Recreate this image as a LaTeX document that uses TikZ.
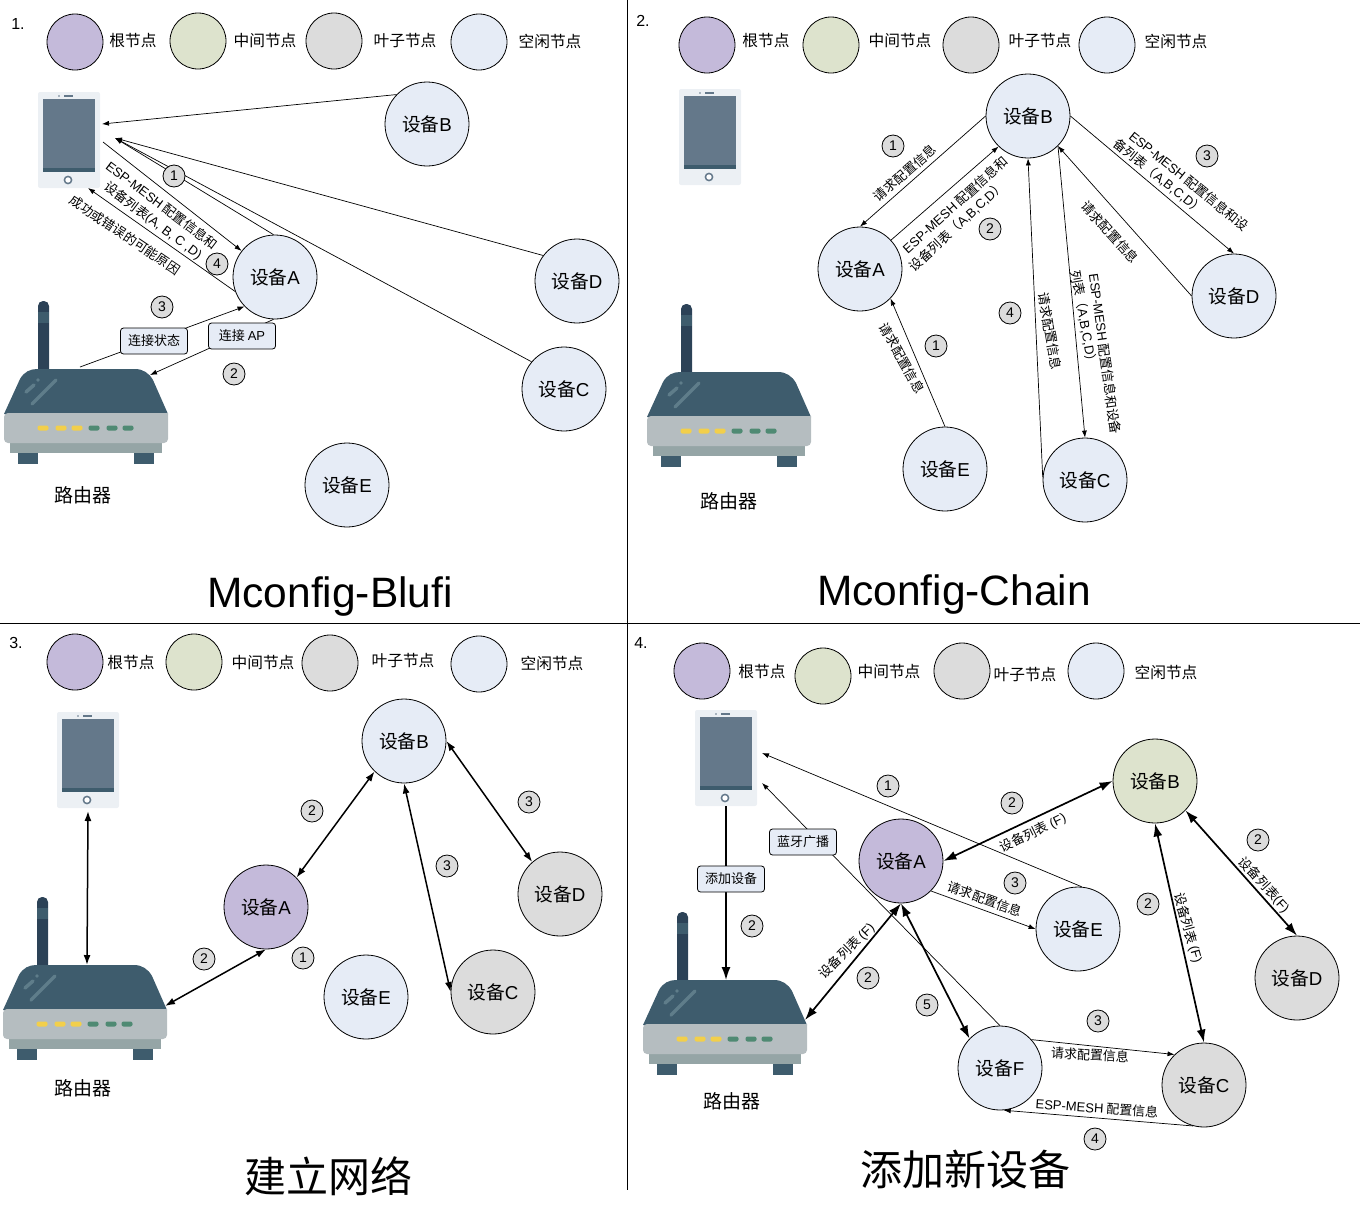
\documentclass[tikz,border=0pt]{standalone}
\usepackage{fontspec}
\setmainfont{Noto Sans CJK SC}
\newfontfamily\lat{Liberation Sans}
\usetikzlibrary{arrows.meta}
\definecolor{rootc}{HTML}{C4BADA}
\definecolor{midc}{HTML}{DDE3CD}
\definecolor{leafc}{HTML}{DCDCDC}
\definecolor{idlec}{HTML}{E6ECF6}
\definecolor{slate}{HTML}{3E5C6D}
\definecolor{mast}{HTML}{2C4257}
\definecolor{screen}{HTML}{64788A}
\definecolor{shell}{HTML}{ECF0F4}
\definecolor{band}{HTML}{B5BDC0}
\definecolor{lowband}{HTML}{95A5A6}
\definecolor{ledy}{HTML}{F2CF4B}
\definecolor{ledg}{HTML}{4F8A73}
\definecolor{glint}{HTML}{5F7D8A}
\newcommand{\dev}[1]{设备{\lat #1}}
\newcommand{\esp}{{\lat ESP-MESH} }
\tikzset{device/.style={circle,draw,line width=.8pt,minimum size=84pt,inner sep=0pt,fill=idlec,font=\fontsize{18.7}{21}\selectfont}}
\tikzset{legend/.style={circle,draw,line width=.8pt,minimum size=56pt,inner sep=0pt}}
\tikzset{legendtext/.style={inner sep=0pt,font=\fontsize{15.7}{18}\selectfont}}
\tikzset{routertext/.style={inner sep=0pt,font=\fontsize{19}{21}\selectfont}}
\tikzset{badge/.style={circle,draw,line width=.8pt,minimum size=22pt,inner sep=0pt,fill=leafc,font=\fontsize{14}{16}\lat}}
\tikzset{msg/.style={inner sep=0pt,font=\fontsize{13}{15}\selectfont}}
\tikzset{msgbox/.style={draw,line width=.8pt,rounded corners=3pt,fill=idlec,minimum height=26pt,minimum width=67pt,inner sep=0pt,font=\fontsize{13}{15}\selectfont}}
\tikzset{title/.style={inner sep=0pt,font=\fontsize{42}{46}\selectfont}}
\tikzset{panelno/.style={inner sep=0pt,font=\fontsize{16}{18}\lat}}
\tikzset{arc/.style={-{Latex[length=7pt,width=5pt]},line width=.7pt}}
\tikzset{fatarc/.style={{Latex[length=10pt,width=7pt]}-{Latex[length=10pt,width=7pt]},line width=1.5pt}}
\tikzset{heavyarc/.style={{Latex[length=13pt,width=9pt]}-{Latex[length=13pt,width=9pt]},line width=1.7pt}}
\tikzset{phone/.pic={
  \node[fill=shell,rounded corners=2pt,minimum width=62pt,minimum height=96pt,inner sep=0pt] (-body) at (31,48){};
  \fill[screen] (5,7) rectangle (57,80);
  \fill[slate] (5,76) rectangle (57,80);
  \draw[screen,line width=1.5pt,fill=white] (30,88) circle (3.6);
  \fill[screen] (21,4) circle (.8);
  \fill[screen] (26,3.4) rectangle (35,4.6);
}}
\tikzset{router/.pic={
  \fill[mast,rounded corners=5pt] (34,-68) rectangle (45,8);
  \fill[slate] (34,-57) rectangle (45,-46);
  \fill[slate] (0,45) -- (16,10) .. controls (20,3) and (26,0) .. (33,0) -- (131,0) .. controls (139,0) and (145,4) .. (149,11) -- (164,45) -- cycle;
  \fill[lowband] (6,70) rectangle (158,84);
  \fill[band] (0,44) -- (164,44) -- (164,69) [rounded corners=4pt] -- (164,74) -- (0,74) -- cycle;
  \fill[slate] (14,84) rectangle (34,95);
  \fill[slate] (130,84) rectangle (150,95);
  \foreach \x in {39,57,73} \fill[ledy,rounded corners=2pt] (\x-5.5,56.5) rectangle (\x+5.5,61.5);
  \foreach \x in {90,108,124} \fill[ledg,rounded corners=2pt] (\x-5.5,56.5) rectangle (\x+5.5,61.5);
  \draw[glint,line width=3.5pt,line cap=round] (22,23) -- (30,16);
  \fill[glint] (34,11) circle (1.8);
  \draw[glint,line width=3.5pt,line cap=round] (28,35) -- (52,11);
}}

\begin{document}
\begin{tikzpicture}[x=1pt,y=-1pt]
  \useasboundingbox (0,0) rectangle (1360,1208);
  \coordinate (vtop) at (627,0);
  \coordinate (vend) at (627,1190);
  \coordinate (hleft) at (0,623);
  \coordinate (hright) at (1360,623);
  \draw[line width=.8pt] (vtop) -- (vend);
  \draw[line width=.8pt] (hleft) -- (hright);

  \node[panelno] (no1) at (18,24){1.};
  \node[panelno] (no2) at (643,21){2.};
  \node[panelno] (no3) at (16,643){3.};
  \node[panelno] (no4) at (641,643){4.};

  % legends of the four panels
  \foreach \i/\kind/\word/\cx/\cy/\tx/\ty in {
    1/rootc/根节点/75/42/133/41, 2/midc/中间节点/198/41/265/41, 3/leafc/叶子节点/334/41/405/41, 4/idlec/空闲节点/479/42/550/41,
    5/rootc/根节点/707/45/766/41, 6/midc/中间节点/831/45/900/41, 7/leafc/叶子节点/971/45/1040/41, 8/idlec/空闲节点/1107/45/1176/41,
    9/rootc/根节点/75/662/131/663, 10/midc/中间节点/194/662/263/663, 11/leafc/叶子节点/330/663/403/661, 12/idlec/空闲节点/479/664/552/663,
    13/rootc/根节点/702/671/762/672, 14/midc/中间节点/823/676/889/672, 15/leafc/叶子节点/962/671/1025/675, 16/idlec/空闲节点/1096/671/1166/672}{
    \node[legend,fill=\kind] (l\i) at (\cx,\cy){};
    \node[legendtext] (lt\i) at (\tx,\ty){\word};
  }

  \pic (ph1) at (38,92) {phone};
  \pic (ph2) at (679,89) {phone};
  \pic (ph3) at (57,712) {phone};
  \pic (ph4) at (695,710) {phone};
  \pic (rt1) at (4,369) {router};
  \pic (rt2) at (647,372) {router};
  \pic (rt3) at (3,965) {router};
  \pic (rt4) at (643,980) {router};
  \node[routertext] (rl1) at (83,495){路由器};
  \node[routertext] (rl2) at (729,501){路由器};
  \node[routertext] (rl3) at (83,1088){路由器};
  \node[routertext] (rl4) at (732,1101){路由器};

  % panel 1
  \node[device] (b1) at (427,124){\dev{B}};
  \node[device] (a1) at (275,277){\dev{A}};
  \node[device] (d1) at (577,281){\dev{D}};
  \node[device] (c1) at (564,389){\dev{C}};
  \node[device] (e1) at (347,485){\dev{E}};
  \coordinate (p1a) at (102,124);
  \coordinate (p1b) at (115,138);
  \coordinate (p1c) at (103,142);
  \coordinate (p1d) at (88,188);
  \coordinate (r1a) at (80,367);
  \coordinate (r1b) at (150,375);
  \draw[arc] (b1.136) -- (p1a);
  \draw[arc] (a1.92) -- (p1b);
  \draw[arc] (d1.143) -- (p1b);
  \draw[arc] (c1.140) -- (p1b);
  \draw[arc] (p1c) -- (a1.142);
  \draw[arc] (a1.200) -- (p1d);
  \draw[arc] (r1a) -- (a1.224);
  \draw[arc] (a1.268) -- (r1b);
  \node[msgbox] (s1) at (154,341){连接状态};
  \node[msgbox] (s2) at (242,336){连接 {\lat AP}};
  \node[msg,rotate=-37] (m1) at (162,205){\esp 配置信息和};
  \node[msg,rotate=-37] (m2) at (153,221){设备列表{\lat (A, B, C ,D)}};
  \node[msg,rotate=-34] (m3) at (125,235){成功或错误的可能原因};

  % panel 2
  \node[device] (b2) at (1028,116){\dev{B}};
  \node[device] (a2) at (860,269){\dev{A}};
  \node[device] (d2) at (1234,296){\dev{D}};
  \node[device] (e2) at (945,469){\dev{E}};
  \node[device] (c2) at (1085,480){\dev{C}};
  \draw[arc] (b2.180) -- (a2.90);
  \draw[arc] (a2.43) -- (b2.226);
  \draw[arc] (b2.0) -- (d2.90);
  \draw[arc] (d2.180) -- (b2.315);
  \draw[arc] (c2.176) -- (b2.270);
  \draw[arc] (b2.315) -- (c2.90);
  \draw[arc] (e2.90) -- (a2.316);
  \node[msg,rotate=41] (m4) at (905,173){请求配置信息};
  \node[msg,rotate=42] (m5) at (955,205){\esp 配置信息和};
  \node[msg,rotate=43] (m6) at (957,226){设备列表（{\lat A,B,C,D}）};
  \node[msg,rotate=-61] (m7) at (902,358){请求配置信息};
  \node[msg,rotate=-80] (m8) at (1050,331){请求配置信息};
  \node[msg,rotate=-82] (m9) at (1105,354){\esp 配置信息和设备};
  \node[msg,rotate=-80] (m10) at (1084,319){列表（{\lat A,B,C,D}）};
  \node[msg,rotate=-48] (m11) at (1110,232){请求配置信息};
  \node[msg,rotate=-39] (m12) at (1189,181){\esp 配置信息和设};
  \node[msg,rotate=-39] (m13) at (1159,177){备列表（{\lat A,B,C,D}）};

  % panel 3
  \node[device] (b3) at (404,741){\dev{B}};
  \node[device,fill=rootc] (a3) at (266,907){\dev{A}};
  \node[device,fill=leafc] (d3) at (560,894){\dev{D}};
  \node[device,fill=leafc] (c3) at (493,992){\dev{C}};
  \node[device] (e3) at (366,997){\dev{E}};
  \coordinate (p3a) at (88,811);
  \coordinate (r3a) at (87,965);
  \coordinate (r3b) at (165,1006);
  \draw[fatarc] (p3a) -- (r3a);
  \draw[fatarc] (r3b) -- (a3.270);
  \draw[fatarc] (a3.44) -- (b3.226);
  \draw[fatarc] (b3.270) -- (c3.180);
  \draw[fatarc] (b3.0) -- (d3.131);

  % panel 4
  \node[device,fill=midc] (b4) at (1155,781){\dev{B}};
  \node[device,fill=rootc] (a4) at (901,861){\dev{A}};
  \node[device] (e4) at (1078,929){\dev{E}};
  \node[device,fill=leafc] (d4) at (1297,978){\dev{D}};
  \node[device] (f4) at (1000,1068){\dev{F}};
  \node[device,fill=leafc] (c4) at (1204,1085){\dev{C}};
  \coordinate (p4a) at (726,806);
  \coordinate (p4b) at (762,753);
  \coordinate (p4c) at (762,783);
  \coordinate (r4a) at (726,980);
  \coordinate (r4b) at (805,1020);
  \draw[-{Latex[length=13pt,width=9pt]},line width=1.5pt] (p4a) -- (r4a);
  \draw[arc] (e4.85) -- (p4b);
  \draw[arc] (f4.90) -- (p4c);
  \draw[heavyarc] (a4.0) -- (b4.180);
  \draw[heavyarc] (a4.270) -- (r4b);
  \draw[heavyarc] (a4.270) -- (f4.136);
  \draw[heavyarc] (b4.270) -- (c4.90);
  \draw[heavyarc] (b4.316) -- (d4.90);
  \draw[arc] (a4.315) -- (e4.180);
  \draw[arc] (f4.42) -- (c4.134);
  \draw[arc] (c4.255) -- (f4.275);
  \node[msgbox] (s3) at (731,879){添加设备};
  \node[msgbox] (s4) at (803,842){蓝牙广播};
  \node[msg,rotate=26] (m14) at (1033,833){设备列表 {\lat (F)}};
  \node[msg,rotate=-20] (m15) at (985,899){请求配置信息};
  \node[msg,rotate=45] (m16) at (847,951){设备列表 {\lat (F)}};
  \node[msg,rotate=-74] (m17) at (1188,928){设备列表 {\lat (F)}};
  \node[msg,rotate=-48] (m18) at (1264,885){设备列表{\lat (F)}};
  \node[msg,rotate=-3] (m19) at (1090,1055){请求配置信息};
  \node[msg,rotate=-4] (m20) at (1097,1108){\esp 配置信息};

  % numbered badges
  \foreach \i/\x/\y/\n in {1/174/176/1, 2/217/264/4, 3/162/307/3, 4/234/374/2,
    5/893/146/1, 6/990/229/2, 7/1207/156/3, 8/1010/313/4, 9/936/346/1,
    10/312/811/2, 11/529/802/3, 12/447/866/3, 13/204/959/2, 14/303/958/1,
    15/888/786/1, 16/1012/803/2, 17/1015/883/3, 18/1258/840/2, 19/1148/904/2,
    20/752/926/2, 21/868/978/2, 22/927/1005/5, 23/1098/1021/3, 24/1095/1139/4}{
    \node[badge] (n\i) at (\x,\y){\n};
  }

  \node[title,font=\fontsize{42.5}{46}\lat] (t1) at (330,597){Mconfig-Blufi};
  \node[title,font=\fontsize{42.5}{46}\lat] (t2) at (954,595){Mconfig-Chain};
  \node[title] (t3) at (328,1176){建立网络};
  \node[title] (t4) at (965,1170){添加新设备};
\end{tikzpicture}
\end{document}
